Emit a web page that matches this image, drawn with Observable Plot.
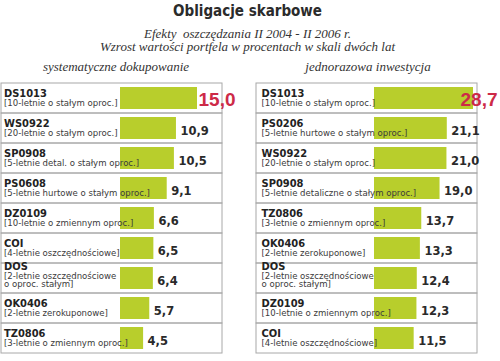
<!DOCTYPE html>
<html>
<head>
<meta charset="utf-8">
<script src="https://cdn.jsdelivr.net/npm/d3@7"></script>
<script src="https://cdn.jsdelivr.net/npm/@observablehq/plot@0.6"></script>
<style>
  html, body { margin: 0; padding: 0; background: #fff; }
  #wrap { position: relative; width: 500px; height: 361px; overflow: hidden; }
  .t { position: absolute; white-space: nowrap; color: #333; }
  #title { left: 0; width: 495px; text-align: center; top: 4px; font: bold 15px/15px "DejaVu Sans Condensed", "DejaVu Sans", sans-serif; color: #2b2b2b; }
  .sub { left: 0; width: 495px; text-align: center; font: italic 13px/13px "Liberation Serif", serif; }
  .pt { font: italic 13px/13px "Liberation Serif", serif; text-align: center; }
  .panel { position: absolute; top: 78px; }
</style>
</head>
<body>
<div id="wrap">
  <div id="title" class="t">Obligacje skarbowe</div>
  <div class="t sub" style="top:27px">Efekty&nbsp; oszczędzania II 2004 - II 2006 r.</div>
  <div class="t sub" style="top:40px">Wzrost wartości portfela w procentach w skali dwóch lat</div>
  <div class="t pt" style="top:60px; left:16px; width:200px">systematyczne dokupowanie</div>
  <div class="t pt" style="top:60px; left:268px; width:200px">jednorazowa inwestycja</div>
  <div id="left" class="panel" style="left:0px"></div>
  <div id="right" class="panel" style="left:250px"></div>
</div>
<script>
// ---- data ----
const leftCodes = ["DS1013", "WS0922", "SP0908", "PS0608", "DZ0109", "COI", "DOS", "OK0406", "TZ0806"];
const leftDescs = [
  "[10-letnie o stałym oproc.]",
  "[20-letnie o stałym oproc.]",
  "[5-letnie detal. o stałym oproc.]",
  "[5-letnie hurtowe o stałym oproc.]",
  "[10-letnie o zmiennym oproc.]",
  "[4-letnie oszczędnościowe]",
  "[2-letnie oszczędnościowe\no oproc. stałym]",
  "[2-letnie zerokuponowe]",
  "[3-letnie o zmiennym oproc.]"
];
const leftValues = [15.0, 10.9, 10.5, 9.1, 6.6, 6.5, 6.4, 5.7, 4.5];

const rightCodes = ["DS1013", "PS0206", "WS0922", "SP0908", "TZ0806", "OK0406", "DOS", "DZ0109", "COI"];
const rightDescs = [
  "[10-letnie o stałym oproc.]",
  "[5-letnie hurtowe o stałym oproc.]",
  "[20-letnie o stałym oproc.]",
  "[5-letnie detaliczne o stałym oproc.]",
  "[3-letnie o zmiennym oproc.]",
  "[2-letnie zerokuponowe]",
  "[2-letnie oszczędnościowe\no oproc. stałym]",
  "[10-letnie o zmiennym oproc.]",
  "[4-letnie oszczędnościowe]"
];
const rightValues = [28.7, 21.1, 21.0, 19.0, 13.7, 13.3, 12.4, 12.3, 11.5];

// ---- style ----
const barColor = "#b8ce2c";
const lineColor = "#a8a8a8";
const hlColor = "#cd2a47";
const cond = "DejaVu Sans Condensed, DejaVu Sans, sans-serif";
const fmt = v => d3.format(".1f")(v).replace(".", ",");

function panel(codes, descs, values, o) {
  const data = codes.map((c, i) => ({code: c, desc: descs[i], value: values[i], two: descs[i].includes("\n"), hl: i === 0}));
  const one = d => !d.two, two = d => d.two;
  const codeOpt = {y: "code", text: "code", frameAnchor: "left", textAnchor: "start", lineAnchor: "bottom",
    dx: o.textDx, fontFamily: cond, fontWeight: "bold", fontSize: 11, fill: "#222"};
  const descOpt = {y: "code", text: "desc", frameAnchor: "left", textAnchor: "start", lineAnchor: "bottom",
    dx: o.textDx, fontFamily: cond, fontSize: 9.5, fill: "#3a3a3a", lineHeight: 0.8};
  return Plot.plot({
    width: 250, height: 280,
    marginTop: 3, marginBottom: 3, marginLeft: o.marginLeft, marginRight: o.marginRight,
    x: {domain: [0, d3.max(values)], range: o.range, axis: null},
    y: {domain: codes, padding: 0, axis: null},
    style: {overflow: "visible", background: "transparent"},
    marks: [
      Plot.cell(data, {y: "code", fill: "none", stroke: lineColor, strokeWidth: 1}),
      Plot.barX(data, {x: "value", y: "code", fill: barColor, insetTop: 4, insetBottom: 4}),
      Plot.text(data, {...codeOpt, filter: one, dy: -2}),
      Plot.text(data, {...codeOpt, filter: two, dy: -8.5}),
      Plot.text(data, {...descOpt, filter: one, dy: 7.5}),
      Plot.text(data, {...descOpt, filter: two, dy: 8.5}),
      Plot.text(data, {filter: d => !d.hl, x: "value", y: "code", text: d => fmt(d.value), textAnchor: "start",
        dx: 4, dy: 2.5, fontFamily: "DejaVu Sans, sans-serif", fontWeight: "bold", fontSize: 11.5, fill: "#2a2a2a"}),
      Plot.text(data, {filter: d => d.hl, x: "value", y: "code", text: d => fmt(d.value), textAnchor: "start",
        dx: o.hlDx, dy: 1.5, fontFamily: "Liberation Sans, Arial, sans-serif", fontWeight: "bold", fontSize: 19, fill: hlColor})
    ]
  });
}

document.getElementById("left").append(panel(leftCodes, leftDescs, leftValues,
  {marginLeft: 1, marginRight: 28, range: [120, 197], textDx: 2.5, hlDx: 1}));
document.getElementById("right").append(panel(rightCodes, rightDescs, rightValues,
  {marginLeft: 6, marginRight: 23, range: [124, 223], textDx: 5, hlDx: -13}));
</script>
</body>
</html>
